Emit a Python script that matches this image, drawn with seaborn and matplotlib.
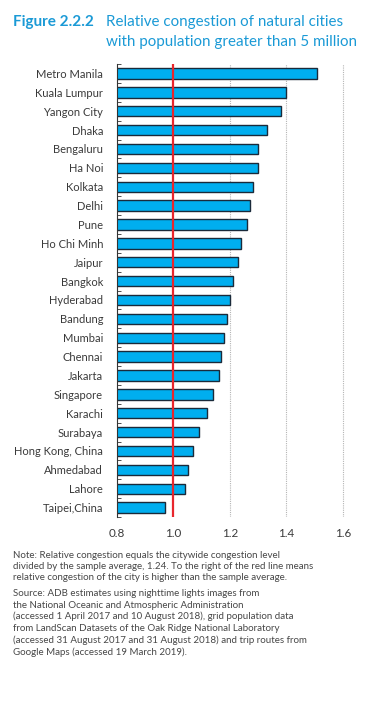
import matplotlib
matplotlib.use("Agg")
import matplotlib.pyplot as plt
import seaborn as sns
import pandas as pd
import numpy as np

# Data
cities = ["Metro Manila", "Kuala Lumpur", "Yangon City", "Dhaka", "Bengaluru", "Ha Noi",
          "Kolkata", "Delhi", "Pune", "Ho Chi Minh", "Jaipur", "Bangkok", "Hyderabad",
          "Bandung", "Mumbai", "Chennai", "Jakarta", "Singapore", "Karachi", "Surabaya",
          "Hong Kong, China", "Ahmedabad", "Lahore", "Taipei,China"]
congestion = [1.51, 1.40, 1.38, 1.33, 1.30, 1.30, 1.28, 1.27, 1.26, 1.24, 1.23, 1.21, 1.20,
              1.19, 1.18, 1.17, 1.16, 1.14, 1.12, 1.09, 1.07, 1.05, 1.04, 0.97]
x_ticks = [0.8, 1.0, 1.2, 1.4, 1.6]
reference_line = 1.0

df = pd.DataFrame({"city": cities, "congestion": congestion})

sns.set_theme(style="white")
plt.rcParams['font.family'] = ['Lato', 'DejaVu Sans']

fig = plt.figure(figsize=(3.81, 7.10), dpi=100)
ax = fig.add_axes([0.307, 0.2718, 0.667, 0.638])

# Horizontal bars
sns.barplot(data=df, x="congestion", y="city", orient="h", ax=ax,
            color="#00AEEF", saturation=1, width=0.55,
            edgecolor="#1a2a3a", linewidth=1.0)

# Dotted grid lines and red reference line
for t in x_ticks[2:]:
    ax.axvline(t, color="#b5b5b5", linestyle=(0, (1, 1)), linewidth=0.8, zorder=0)
ax.axvline(reference_line, color="#E8262D", linewidth=1.6, zorder=5)

ax.set_xlim(0.8, 1.7)
ax.set_ylim(len(cities) - 0.5, -0.5)
ax.set_xticks(x_ticks)
ax.set_xticklabels([f"{t:.1f}" for t in x_ticks])
ax.set_xlabel("")
ax.set_ylabel("")

# Small ticks at the category boundaries on the left spine
ax.set_yticks(np.arange(-0.5, len(cities)), minor=True)
ax.tick_params(axis="y", which="major", length=0, pad=10, labelsize=8.0, labelcolor="#3a3a3a")
ax.tick_params(axis="y", which="minor", left=True, direction="in", length=3, width=0.6, color="#333333")
ax.tick_params(axis="x", length=0, pad=8, labelsize=8.4, labelcolor="#3a3a3a")

for s in ["top", "right", "bottom"]:
    ax.spines[s].set_visible(False)
ax.spines["left"].set_color("#333333")
ax.spines["left"].set_linewidth(0.8)

# Title
blue = "#1B9AD6"
fig.text(13 / 381, 1 - 22 / 710, "Figure 2.2.2", fontsize=11, fontweight="bold",
         color=blue, va="center", ha="left")
fig.text(106 / 381, 1 - 22 / 710, "Relative congestion of natural cities", fontsize=10.9,
         color=blue, va="center", ha="left")
fig.text(106 / 381, 1 - 42 / 710, "with population greater than 5 million", fontsize=10.9,
         color=blue, va="center", ha="left")

# Notes
note_lines = [
    "Note: Relative congestion equals the citywide congestion level",
    "divided by the sample average, 1.24. To the right of the red line means",
    "relative congestion of the city is higher than the sample average.",
]
source_lines = [
    "Source: ADB estimates using nighttime lights images from",
    "the National Oceanic and Atmospheric Administration",
    "(accessed 1 April 2017 and 10 August 2018), grid population data",
    "from LandScan Datasets of the Oak Ridge National Laboratory",
    "(accessed 31 August 2017 and 31 August 2018) and trip routes from",
    "Google Maps (accessed 19 March 2019).",
]
y = 555
for line in note_lines:
    fig.text(13 / 381, 1 - y / 710, line, fontsize=7.05, color="#474747", va="center", ha="left")
    y += 11.4
y = 593.3
for line in source_lines:
    fig.text(13 / 381, 1 - y / 710, line, fontsize=7.05, color="#474747", va="center", ha="left")
    y += 11.7

fig.savefig("out.png", dpi=100)
